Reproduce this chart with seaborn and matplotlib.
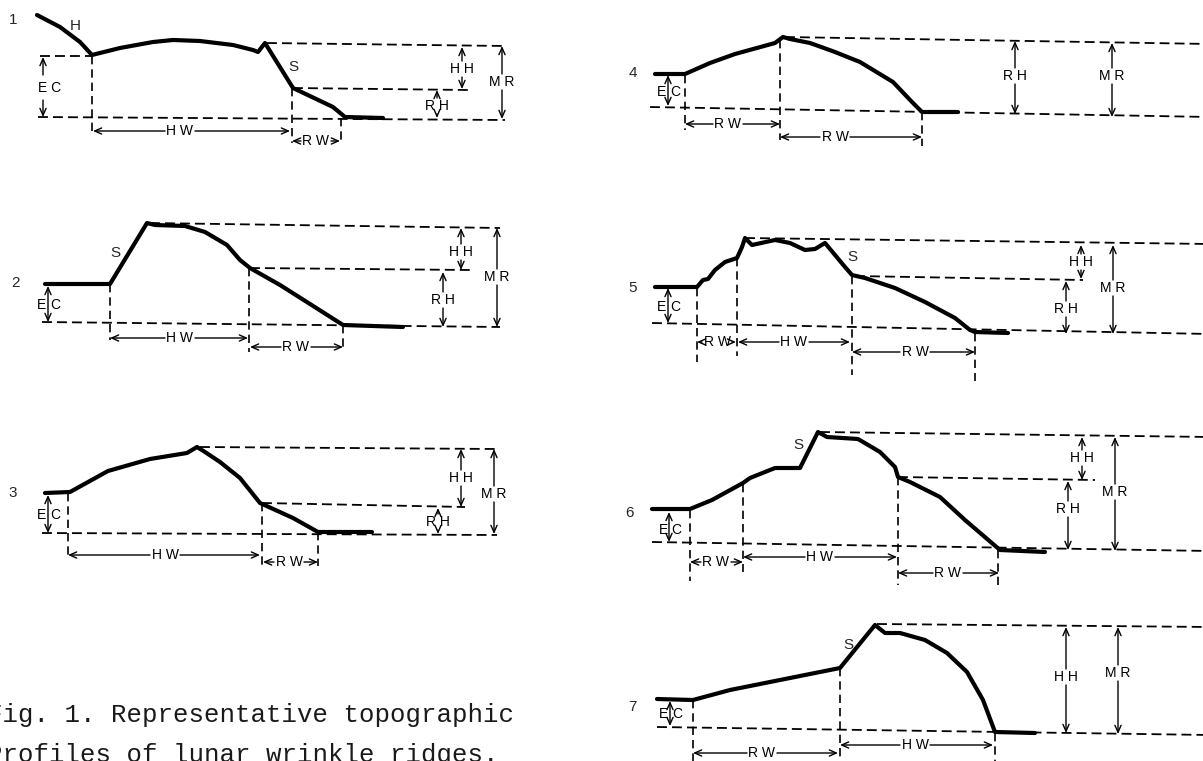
import matplotlib
matplotlib.use("Agg")
import matplotlib.pyplot as plt
import seaborn as sns

# Wrinkle ridge profiles - schematic of measured parameters
# Coordinates are read off the scanned figure (pixel units, y grows downward)

# PROFILE TRACES

P1_X = [37, 60, 80, 92, 120, 153, 173, 200, 233, 253, 258, 265, 293, 333, 345, 383]
P1_Y = [15, 27, 42, 55, 48, 42, 40, 41, 45, 50, 52, 43, 88, 107, 117, 118]

P2_X = [45, 110, 147, 155, 185, 205, 227, 240, 250, 280, 310, 343, 403]
P2_Y = [284, 284, 223, 225, 226, 232, 245, 260, 268, 285, 304, 325, 327]

P3_X = [45, 70, 108, 150, 187, 197, 205, 220, 240, 260, 293, 318, 372]
P3_Y = [493, 492, 471, 459, 453, 447, 452, 462, 478, 503, 518, 532, 532]

P4_X = [655, 685, 710, 735, 775, 783, 790, 810, 835, 860, 893, 912, 922, 958]
P4_Y = [74, 74, 63, 54, 43, 37, 39, 43, 52, 62, 82, 102, 112, 112]

P5_X = [655, 697, 703, 708, 715, 725, 737, 742, 745, 752, 775, 790, 805, 815,
        825, 845, 852, 865, 895, 925, 955, 970, 975, 1008]
P5_Y = [287, 287, 280, 279, 270, 262, 258, 247, 238, 245, 240, 243, 250, 249,
        243, 267, 275, 278, 288, 302, 318, 330, 332, 333]

P6_X = [652, 690, 712, 743, 750, 775, 800, 818, 827, 858, 880, 895, 898, 910,
        940, 965, 1000, 1045]
P6_Y = [509, 509, 500, 483, 478, 468, 468, 432, 437, 439, 452, 467, 477, 482,
        497, 520, 550, 552]

P7_X = [657, 693, 730, 790, 840, 875, 885, 900, 925, 947, 967, 983, 995, 1035]
P7_Y = [699, 700, 690, 678, 668, 625, 633, 633, 640, 653, 672, 700, 732, 733]

PROFILES = [(P1_X, P1_Y), (P2_X, P2_Y), (P3_X, P3_Y), (P4_X, P4_Y),
            (P5_X, P5_Y), (P6_X, P6_Y), (P7_X, P7_Y)]

PANEL_NUMBERS = ["1", "2", "3", "4", "5", "6", "7"]
PANEL_NUMBER_XY = [(13, 20), (15, 283), (13, 493), (633, 73), (633, 288),
                   (630, 513), (632, 707)]

# letters marking the scarp (S) and the hill (H)
MARK_TEXT = ["H", "S", "S", "S", "S", "S"]
MARK_XY = [(75, 26), (293, 67), (115, 253), (852, 257), (798, 445), (848, 645)]

# DASHED REFERENCE LINES  (x0, x1, y0, y1)

GUIDES_H = [
    # 1
    (267, 505, 43, 46), (293, 468, 88, 90), (40, 92, 56, 56), (38, 505, 117, 120),
    # 2
    (150, 500, 223, 228), (250, 470, 268, 270), (42, 500, 322, 327),
    # 3
    (200, 497, 447, 449), (262, 465, 503, 507), (42, 497, 533, 535),
    # 4
    (785, 1210, 37, 44), (650, 1210, 107, 117),
    # 5
    (745, 1210, 238, 244), (855, 1083, 276, 280), (652, 1210, 323, 334),
    # 6
    (820, 1210, 432, 437), (898, 1095, 477, 480), (652, 1210, 542, 551),
    # 7
    (877, 1210, 624, 627), (657, 1210, 727, 735),
]

# (x, y0, y1)
GUIDES_V = [
    (92, 56, 133), (292, 88, 143), (341, 118, 143),
    (110, 284, 340), (249, 268, 352), (343, 325, 350),
    (68, 493, 558), (262, 503, 566), (318, 532, 566),
    (685, 75, 130), (780, 40, 140), (922, 112, 146),
    (697, 288, 362), (737, 258, 356), (852, 276, 375), (975, 333, 381),
    (690, 510, 581), (743, 484, 572), (898, 477, 585), (998, 550, 585),
    (693, 700, 761), (840, 668, 761), (995, 733, 761),
]

# DIMENSION ARROWS
# vertical: (x, y_top, y_bottom, label, label_y)
DIMS_V = [
    (462, 47, 89, "H H", 69), (437, 90, 118, "R H", 106), (502, 46, 119, "M R", 82),
    (461, 228, 270, "H H", 252), (443, 272, 327, "R H", 300), (497, 228, 327, "M R", 277),
    (461, 449, 507, "H H", 478), (438, 508, 534, "R H", 522), (494, 449, 534, "M R", 494),
    (1015, 41, 114, "R H", 76), (1112, 43, 117, "M R", 76),
    (1081, 245, 279, "H H", 262), (1066, 281, 334, "R H", 309), (1113, 245, 334, "M R", 288),
    (1082, 437, 480, "H H", 458), (1068, 481, 550, "R H", 509), (1115, 437, 551, "M R", 492),
    (1066, 627, 733, "H H", 677), (1118, 627, 734, "M R", 673),
]

# elevation contrast, arrow runs between the two letters: (x, y_top, y_bottom, label_y)
DIMS_EC = [
    (48, 286, 322, 305), (48, 495, 533, 515), (668, 75, 106, 92),
    (668, 288, 323, 307), (669, 512, 542, 530), (670, 701, 726, 714),
]

# horizontal: (y, x_left, x_right, label, label_x)
DIMS_H = [
    (131, 93, 290, "H W", 180), (141, 292, 340, "R W", 316),
    (338, 110, 248, "H W", 180), (347, 250, 343, "R W", 296),
    (555, 68, 260, "H W", 165), (562, 263, 318, "R W", 289),
    (124, 685, 780, "R W", 728), (137, 780, 922, "R W", 835),
    (342, 697, 736, "R W", 717), (342, 738, 850, "H W", 794), (352, 852, 975, "R W", 915),
    (562, 690, 743, "R W", 716), (557, 743, 897, "H W", 820), (573, 898, 999, "R W", 948),
    (753, 693, 838, "R W", 762), (745, 840, 993, "H W", 915),
]

CAPTION = ["Fig. 1. Representative topographic",
           "Profiles of lunar wrinkle ridges."]


def arrow(ax, start, end, style="->"):
    ax.annotate("", xy=end, xytext=start,
                arrowprops=dict(arrowstyle=style + ",head_length=0.5,head_width=0.22",
                                lw=1.0, color="black", shrinkA=0, shrinkB=0,
                                mutation_scale=10))


def main():
    sns.set_theme(style="white")
    plt.rcParams["font.family"] = ["Liberation Sans", "DejaVu Sans"]

    fig = plt.figure(figsize=(12.03, 7.61), dpi=100)
    ax = fig.add_axes([0, 0, 1, 1])
    ax.set_xlim(0, 1203)
    ax.set_ylim(761, 0)
    ax.axis("off")

    for x0, x1, y0, y1 in GUIDES_H:
        ax.plot([x0, x1], [y0, y1], color="black", lw=1.3,
                linestyle=(0, (5.5, 2.8)))
    for x, y0, y1 in GUIDES_V:
        ax.plot([x, x], [y0, y1], color="black", lw=1.2,
                linestyle=(0, (5, 3)))

    for px, py in PROFILES:
        sns.lineplot(x=px, y=py, sort=False, estimator=None, color="black",
                     lw=3.0, ax=ax, solid_capstyle="round", solid_joinstyle="round")

    txt = dict(fontsize=10, ha="center", va="center", color="black")
    for x, yt, yb, lab, ly in DIMS_V:
        arrow(ax, (x, ly - 8), (x, yt))
        arrow(ax, (x, ly + 8), (x, yb))
        ax.text(x, ly, lab, **txt)
    for x, yt, yb, ly in DIMS_EC:
        arrow(ax, (x, yt), (x, yb), style="<->")
        ax.text(x - 6, ly, "E", **txt)
        ax.text(x + 7, ly, "C", **txt)
    # panel 1 has the label centred on a broken arrow
    arrow(ax, (43, 75), (43, 57))
    arrow(ax, (43, 100), (43, 117))
    ax.text(50, 88, "E C", **txt)

    for y, xl, xr, lab, lx in DIMS_H:
        arrow(ax, (lx - 15, y), (xl, y))
        arrow(ax, (lx + 15, y), (xr, y))
        ax.text(lx, y, lab, **txt)

    for lab, (x, y) in zip(PANEL_NUMBERS, PANEL_NUMBER_XY):
        ax.text(x, y, lab, fontsize=11, ha="center", va="center")
    for lab, (x, y) in zip(MARK_TEXT, MARK_XY):
        ax.text(x, y, lab, fontsize=11, ha="center", va="center")

    # caption runs off the left/bottom edge of the scan, as in the original
    for line, yb in zip(CAPTION, [722, 762]):
        ax.text(-13, yb, line, fontsize=18.5, family=["Liberation Mono", "DejaVu Sans Mono"],
                ha="left", va="baseline", color="#1a1a1a")

    fig.savefig("out.png", dpi=100, facecolor="white")
    plt.close(fig)


if __name__ == "__main__":
    main()
